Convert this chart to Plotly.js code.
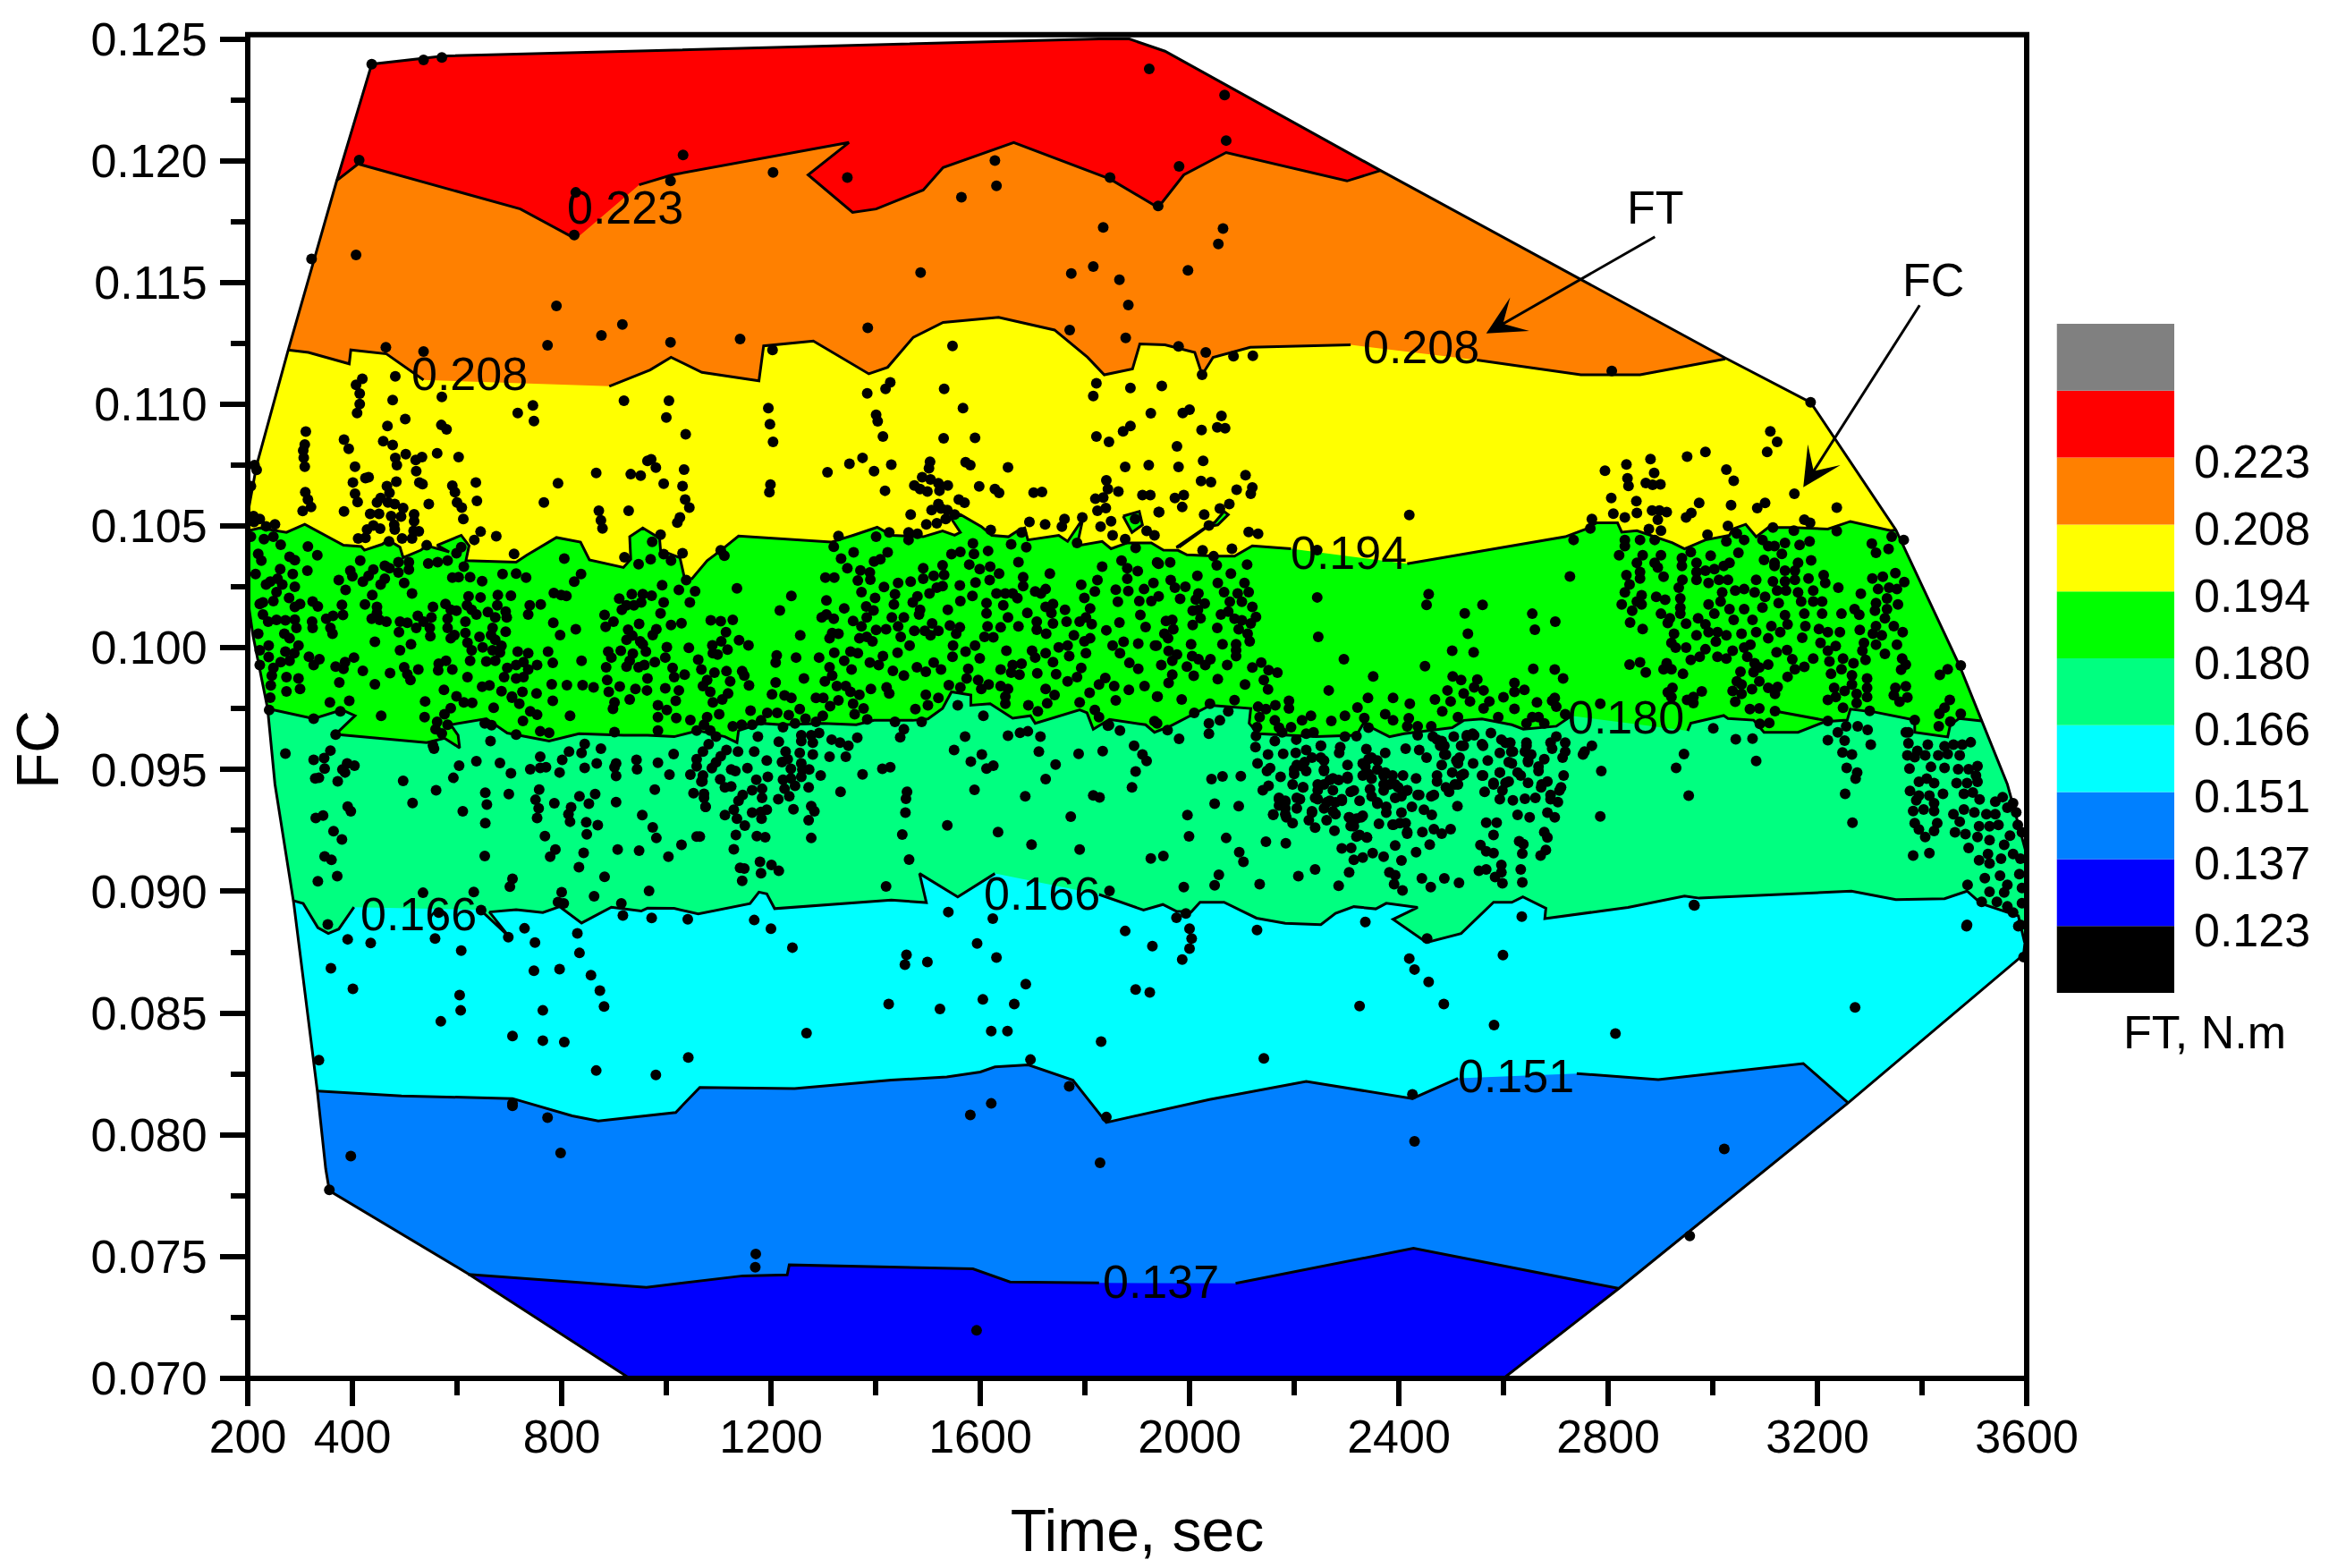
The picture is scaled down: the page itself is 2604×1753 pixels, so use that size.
<!DOCTYPE html>
<html><head><meta charset="utf-8">
<script src="https://cdn.plot.ly/plotly-3.0.1.min.js"></script>
<style>html,body{margin:0;padding:0;background:#fff}#c{width:2604px;height:1753px}</style>
</head><body><div id="c"></div>
<script>
// ---- axis ticks
const xTickVals=[200,400,800,1200,1600,2000,2400,2800,3200,3600];
const xMinorVals=[600,1000,1400,1800,2200,2600,3000,3400];
const yTickVals=[0.070,0.075,0.080,0.085,0.090,0.095,0.100,0.105,0.110,0.115,0.120,0.125];
const yTickText=['0.070','0.075','0.080','0.085','0.090','0.095','0.100','0.105','0.110','0.115','0.120','0.125'];
const yMinorVals=[0.0725,0.0775,0.0825,0.0875,0.0925,0.0975,0.1025,0.1075,0.1125,0.1175,0.1225];
// ---- legend
const legendColors=['#000000','#0000ff','#0080ff','#00ffff','#00ff80','#00ff00','#ffff00','#ff8000','#ff0000','#808080'];
const legendLevels=['0.123','0.137','0.151','0.166','0.180','0.194','0.208','0.223'];
// ---- data hull (time, FC pairs)
const hullRight=[2600,.0700,2821,.0737,3258,.0813,3594,.0874,3600,.0885,3600,.0915,3563,.0944,3513,.09705,3471,.0993,3350,.10484,3187,.11008,3024,.1119,2365,.1196,1953,.1245,1885,.1250];
const hullLeft=[1827,.1250,572,.1243,437,.12397,369,.1191,277,.1122,217,.1075,200,.1055,200,.1020,210,.1005,238,.0975,252,.0944,288,.0895,333,.0818,349,.0786,356,.0777,621,.0743,930,.0700];
// ---- contour boundaries (time, FC pairs); null,null = gap behind a level label
const level137=[621,.07427,777,.07404,962,.07374,1146,.07421,1231,.07425,1235,.07466,1586,.0745,1657,.07396,1827,.07392,null,null,2088,.0739,2428,.07534,2821,.07369];
const level151=[333,.0818,494,.0816,706,.08149,820,.08078,870,.08057,1018,.08092,1064,.08195,1245,.0819,1430,.08225,1536,.08238,1600,.08258,1628,.08279,1692,.08287,1777,.08225,1841,.08051,1953,.08104,2038,.08145,2223,.08219,2426,.08149,2513,.08232,null,null,2740,.08252,2896,.08227,3173,.08293,3258,.08133];
const level166=[287,.08962,306,.0895,334,.08851,354,.08827,374,.08845,403,.08935,null,null,639,.08925,650,.08913,699,.08815,662,.08915,713,.08925,764,.08913,796,.08937,838,.0887,895,.08935,952,.08919,964,.08931,1015,.0893,1061,.08907,1160,.0895,1177,.08997,1192,.0899,1207,.08929,1430,.08964,1497,.08954,1484,.09073,1557,.08977,1628,.09073,null,null,1827,.08987,1912,.08923,1949,.08946,1975,.08918,2003,.08915,2020,.08955,2066,.08955,2128,.0889,2183,.08869,2251,.08863,2279,.0891,2314,.08937,2356,.08928,2376,.08951,2436,.08934,2389,.08885,2453,.0879,2519,.08827,2581,.08955,2616,.08955,2637,.08977,2681,.08931,2679,.08888,2838,.08934,2946,.08981,2974,.08972,3265,.09001,3350,.08966,3443,.0897,3486,.09001,3513,.0895,3584,.08899,3596,.0879];
const level180=[238,.0975,326,.09709,380,.09745,405,.09721,368,.09645,542,.09611,576,.09629,605,.09589,602,.09641,588,.09684,656,.09709,696,.0965,776,.09617,833,.09647,918,.09641,964,.09641,1015,.09635,1061,.0966,1112,.09635,1135,.09611,1138,.0966,1181,.0969,1220,.09684,1300,.0969,1363,.09684,1397,.09702,1471,.09702,1500,.09708,1528,.09751,1545,.09819,1582,.09806,1582,.09764,1619,.0977,1662,.09711,1696,.09721,1705,.0969,1790,.09745,1804,.09733,1816,.09666,1847,.09706,1916,.09684,1933,.09653,1963,.09678,2006,.09727,2040,.09764,2117,.09751,2114,.0969,2131,.09647,2242,.09635,2319,.09641,2334,.09696,2348,.09672,2382,.09635,2410,.09647,2502,.09672,2524,.09702,2559,.09708,2616,.09684,2638,.09666,2701,.09678,2730,.09721,null,null,2952,.09659,2958,.0969,3021,.09722,3029,.0971,3078,.09703,3098,.09653,3163,.09653,3215,.09697,3257,.09703,3263,.09748,3312,.09735,3386,.09703,3386,.09653,3426,.0964,3449,.09634,3454,.09684,3471,.0971,3514,.0970];
const level194=[200,.1048,223,.10492,274,.10474,309,.10507,383,.10421,417,.10416,423,.10401,457,.10425,468,.10443,491,.10413,497,.1037,531,.10401,542,.10419,585,.10394,562,.10421,608,.10462,623,.10419,617,.10358,713,.10352,733,.1038,790,.10453,836,.10434,853,.10361,918,.1033,932,.10364,930,.10456,955,.10492,987,.1045,989,.10401,1026,.1037,1035,.10284,1049,.10284,1078,.10358,1104,.104,1138,.10459,1315,.10434,1357,.10462,1403,.10495,1431,.10462,1491,.10456,1528,.1048,1551,.10462,1562,.10474,1545,.10529,1562,.10547,1602,.10498,1622,.10462,1654,.10456,1671,.1048,1685,.10492,1691,.10443,1750,.10462,1767,.10437,1796,.10529,1785,.10419,1833,.10437,1850,.10407,1881,.10431,1927,.10431,1950,.10401,1978,.104,1995,.10382,2052,.10376,2086,.10376,2120,.10419,2194,.10407,null,null,2416,.10345,2718,.10456,2758,.10488,2778,.10513,2818,.10513,2826,.10475,2855,.10481,2889,.10456,2923,.10431,2946,.10406,2986,.10443,3032,.10462,3038,.10488,3063,.10507,3083,.10456,3106,.10494,3152,.10494,3220,.10488,3263,.10519,3340,.10481,3350,.10484];
const level208=[277,.11223,316,.11213,394,.11166,397,.11223,465,.11207,536,.111,null,null,891,.11074,969,.11141,1009,.11193,1068,.11131,1177,.11096,1186,.1124,1281,.1126,1387,.11125,1423,.11152,1472,.11275,1529,.11336,1635,.11357,1742,.11305,1805,.11193,1837,.11121,1891,.11145,1905,.11248,1953,.11244,2010,.11213,2024,.11121,2045,.11193,2116,.11234,2308,.11244,null,null,2549,.11182,2748,.11121,2861,.11121,3024,.11186];
const level223=[369,.11917,411,.11987,721,.11802,827,.11679,null,null,948,.11901,1011,.11942,1349,.12075,1271,.11942,1356,.11788,1401,.11802,1491,.1188,1529,.11972,1664,.12075,1827,.11942,1848,.11925,1940,.11808,1989,.11942,2070,.12034,2301,.11917,2365,.1196];
const greenLens=[1873,.10541,1904,.1056,1910,.10505,1890,.10474,1873,.10541];
const greenSpike=[1980,.10413,2035,.10498,2054,.10505,2074,.10547,2066,.1056,2049,.10517,2029,.10492,1975,.10413,1980,.10413];
const extraLine=[3119,.0974,3220,.0970];
// ---- level labels on the map
const mapLabels=[['0.223',922,.11808],['0.208',624,.11125],['0.208',2443,.11234],['0.194',2305,.10392],['0.180',2835,.09715],['0.166',526,.08905],['0.166',1718,.08991],['0.151',2624,.08242],['0.137',1945,.07396]];
// ---- measured points (time, FC pairs)
const dotsTop=[437,.12397,536,.12414,571,.12424,413,.12003,1032,.12024,1008,.11917,1204,.11952,1346,.11931,1628,.12001,1631,.11897,1564,.1185,1848,.11931,1923,.12377,1940,.11814,827,.1187,824,.11695,322,.11597,407,.11613,1835,.11726,1486,.11541,1774,.11537,1816,.11566,1866,.11511,1883,.11408,790,.11404,773,.11242,876,.11283,916,.11328,1008,.11254,1141,.11268,1385,.11314,1771,.11305,1878,.11273,1203,.11223,1547,.1124,464,.11234,536,.11217,2067,.1227,2070,.12083,1980,.11977,2064,.11722,2055,.11658,1997,.1155,1979,.11238,2031,.11213,2084,.11197,2121,.11199,2024,.11121,2807,.11137,3187,.11008,2420,.10545,2244,.10401,2949,.10535];
const dotsYellowUpper=[1195,.10984,1198,.10918,1204,.10846,1384,.11045,1419,.11063,1428,.1109,1401,.10957,1404,.1093,1414,.10868,1531,.11063,1567,.10984,1530,.1086,1590,.10862,1822,.11086,1816,.11034,1887,.11067,1926,.10963,1947,.11075,1887,.10911,1873,.10889,1846,.10846,1822,.10868,2000,.10978,1987,.10964,2023,.10894,2053,.10905,2068,.10902,2061,.10952,1976,.10827,3110,.10889,3123,.10846];
const dotsYellowLeft=[419,.11105,407,.1108,414,.11044,414,.11001,409,.10964,482,.11115,571,.1103,477,.11017,501,.10939,467,.10911,570,.10915,580,.10897,716,.10964,745,.10995,747,.10931,919,.11015,1005,.11015,1000,.10946,1037,.10877,311,.10888,309,.10835,306,.1081,307,.1078,309,.10744,384,.10855,393,.10817,405,.10744,401,.10679,405,.10633,410,.10599,384,.1056,459,.10848,477,.10833,482,.1078,485,.1075,502,.10795,521,.10771,533,.10783,522,.10725,562,.10799,603,.10783,425,.10697,431,.10701,466,.10664,484,.10682,471,.10636,528,.10679,534,.10672,591,.10666,596,.10639,636,.10679,638,.10603,600,.10597,609,.10576,612,.10529,546,.1059,310,.10639,315,.10609,321,.10578,305,.10562,447,.10597,454,.10615,468,.10597,481,.1059,497,.10574,434,.1055,451,.1055,474,.10541,493,.10539,518,.10548,518,.1052,428,.10486,440,.10502,453,.10489,480,.10505,481,.10486,517,.1048,527,.10478,514,.10449,495,.10449,411,.10449,425,.10452,470,.10437,793,.10676,866,.10718,766,.10597,932,.10713,951,.10707,971,.10774,964,.10768,980,.1074,1034,.10732,995,.10674,1031,.10664,1036,.10609,1044,.10576,1026,.10535,1021,.10514,871,.10563,875,.10523,878,.1049,928,.10563,989,.10465,973,.10435,645,.10477,633,.10443,675,.10458,709,.10386,213,.1075,217,.10731,206,.10664,211,.10541,223,.10529,252,.10507,235,.10499,212,.10517,206,.10456,249,.10456,231,.10446];
const dotsGreenLeft=[263,.10423,315,.10416,333,.1038,220,.10386,226,.10358,280,.10374,290,.1036,415,.10358,396,.10317,400,.10294,440,.10321,462,.10337,471,.10327,488,.10352,508,.10352,508,.10321,488,.10309,314,.10317,262,.10323,286,.10303,215,.10303,243,.10272,257,.10284,266,.1026,235,.1026,290,.10251,255,.10229,374,.10278,387,.10238,420,.10272,431,.10296,454,.1026,462,.10284,499,.10266,514,.10223,545,.10346,563,.10352,582,.10358,599,.10388,608,.10413,542,.10421,613,.10333,591,.10288,603,.1029,625,.1029,648,.10274,687,.10303,713,.10305,732,.10288,824,.10272,837,.10303,805,.10366,785,.10225,799,.10217,809,.10213,920,.10372,947,.10343,970,.10364,995,.10385,1009,.10358,1031,.10388,1038,.10278,992,.10257,1024,.10238,1055,.10232,279,.10205,290,.10168,300,.1018,324,.1019,334,.1017,229,.10186,249,.10192,223,.1018,380,.10176,382,.10135,363,.10131,350,.10119,438,.10217,424,.10178,447,.10168,447,.10143,437,.10119,452,.10115,465,.10107,229,.10137,239,.10107,255,.10115,272,.10113,290,.10116,323,.10107,324,.10082,293,.10082,220,.10058,270,.10058,280,.10039,358,.10082,362,.10058,491,.10107,489,.10064,505,.10103,525,.10131,522,.10082,536,.10107,551,.10125,554,.10168,548,.10082,549,.10048,578,.1018,588,.10156,599,.10152,582,.10119,582,.10082,588,.10039,595,.10052,622,.10211,645,.10207,619,.10174,628,.10156,637,.10137,616,.10107,616,.10061,659,.10147,678,.10217,703,.10214,677,.10174,693,.10149,695,.10125,673,.10125,668,.10082,693,.10066,665,.10052,673,.10033,643,.10045,620,.10021,628,.0999,649,.10002,685,.10008,668,.0999,682,.09981,739,.10174,760,.10178,736,.10137,784,.10103,827,.10076,797,.10052,910,.10202,934,.1022,955,.1022,972,.10214,995,.10186,1045,.10186,952,.10186,938,.10174,924,.10174,915,.10156,989,.10141,882,.10135,899,.10107,884,.10086,948,.10098,927,.10074,981,.10076,974,.10052,1009,.10094,1029,.10101,935,.1005,924,.10033,950,.10027,443,.10025,512,.10015,491,.0999,240,.10009,223,.0999,240,.09962,297,.10009,272,.09984,289,.09978,280,.09947,263,.09941,317,.09963,337,.09953,326,.09929,223,.09929,249,.09917,246,.09886,403,.0996,386,.09941,368,.09923,383,.09914,420,.09905,579,.09947,565,.09935,564,.09907,591,.09911,499,.0992,526,.09911,505,.09892,511,.09868,472,.09896,625,.09947,656,.09944,673,.09947,620,.0988,716,.09984,736,.09978,727,.09941,774,.09984,783,.09938,838,.09947,753,.09929,736,.09911,713,.09929,696,.09917,690,.0988,727,.0988,713,.09874,889,.09984,895,.0996,913,.09988,936,.09976,955,.10015,961,.09984,924,.09923,885,.0992,930,.09947,1001,.10003,998,.0996,1043,.1,1061,.09951,978,.09941,958,.09929,947,.0992,964,.09874,1012,.09917,1015,.0988,1035,.0989,274,.0988,297,.09874,300,.09831,274,.09821,244,.09846,375,.09858,443,.0985,575,.09827,648,.0984,662,.09846,685,.09822,781,.0985,810,.09847,840,.09847,861,.09837,887,.09868,911,.09841,941,.09831,963,.09825,998,.09834,1024,.09825,890,.09819,725,.09819,752,.09813,705,.098];
const dotsSpringLeft=[243,.09795,241,.09745,357,.09776,394,.09782,377,.09739,326,.09709,455,.09721,539,.0978,538,.09715,576,.09727,588,.09752,599,.09801,613,.09776,629,.09774,670,.09754,705,.09795,719,.0977,740,.09739,753,.09725,726,.097,783,.09782,816,.09721,898,.09749,901,.09776,930,.09788,984,.09764,1001,.09745,984,.09715,1019,.09712,1018,.09782,1046,.09703,1058,.0966,984,.0966,901,.09654,759,.09657,776,.09651,713,.09644,653,.0969,666,.09682,562,.09696,559,.09666,582,.09684,571,.09648,554,.09599,556,.09586,664,.09617,368,.09644,272,.09566,326,.0954,346,.09547,358,.09578,347,.09504,381,.095,390,.09525,404,.09516,386,.09488,336,.09466,329,.09464,372,.09452,497,.09454,515,.09363,560,.09415,593,.09466,604,.09516,637,.09534,682,.09527,703,.09485,759,.09553,796,.09488,740,.09501,759,.09507,770,.0951,611,.09329,654,.09405,699,.09399,657,.09356,757,.09418,750,.09376,756,.09341,753,.09301,786,.09362,654,.0928,834,.0939,864,.09399,852,.0936,818,.09345,813,.09317,816,.09286,847,.09284,869,.09272,848,.09234,904,.09366,954,.09313,978,.09418,974,.09263,981,.09219,801,.0954,814,.09574,838,.09568,844,.09605,844,.09507,867,.09525,875,.09586,904,.09525,901,.0951,904,.09474,943,.0954,944,.09501,984,.09528,1014,.09564,1006,.09479,1058,.09543,1058,.09513,1046,.09479,1069,.09452,1052,.09403,1072,.09384,1075,.09347,1058,.09225,1029,.09191,330,.09301,344,.09311,391,.09348,397,.09329,364,.09247,380,.09213,347,.09143,360,.09129,334,.09041,371,.09062,535,.08994,632,.08997,706,.09051,701,.09019,653,.09145,768,.09227,788,.09172,778,.09142,842,.09158,833,.09099,882,.0906,907,.09172,948,.09167,1004,.09142,800,.08996,793,.08956,804,.0895,862,.0898,914,.0895,967,.09002];
const dotsCyanBlue=[353,.08864,565,.08913,646,.08923,698,.08812,391,.08803,435,.08788,558,.08806,729,.08848,749,.0879,830,.08827,917,.08901,972,.08891,1041,.08885,608,.08757,834,.08747,359,.08684,747,.08674,796,.0868,856,.08656,401,.086,873,.08592,881,.08527,605,.08574,607,.08511,764,.08511,569,.08466,336,.08307,805,.08381,764,.08387,706,.08406,866,.08264,980,.08246,1042,.08318,706,.08129,706,.08119,773,.08071,798,.07926,397,.07913,356,.07774,1170,.07456,1171,.07511,1593,.07197,1581,.08082,1621,.08129,1770,.08199,1841,.08073,1829,.07885,1696,.08309,1831,.08383,1268,.08418,1621,.08426,1652,.08426,1425,.08537,1523,.08517,1605,.08556,1665,.08537,1687,.08619,1456,.08699,1459,.08739,1499,.0871,1631,.08728,1594,.08786,1241,.08769,1200,.08847,1168,.08882,1539,.08915,1624,.08888,1877,.08837,1929,.08775,1897,.08597,1924,.08585,1986,.0872,2004,.08806,2000,.08765,2000,.08847,1975,.08892,1993,.08909,2129,.08841,2336,.08874,2454,.08806,2420,.08724,2430,.08679,2457,.08628,2486,.08537,2325,.08529,2142,.08314,2582,.08451,2814,.08416,2599,.08738,2635,.08896,2964,.08944,3272,.08523,3485,.08857,3584,.08857,3594,.0873,2426,.08166,2430,.07973,3022,.07942,2956,.07585];
const dotsYellowMid=[1199,.1067,1197,.10639,1308,.10721,1350,.10756,1375,.1078,1397,.10725,1430,.10752,1418,.10645,1504,.10764,1502,.10737,1572,.10762,1581,.1075,1653,.10741,1877,.10743,1922,.1075,1489,.10701,1505,.10691,1520,.10676,1538,.10667,1474,.10667,1485,.10652,1499,.10642,1522,.10645,1598,.10663,1628,.10652,1636,.10636,1702,.10637,1718,.1064,1841,.10688,1844,.10652,1864,.10642,1910,.10627,1925,.10627,1820,.10612,1835,.10617,1840,.10574,1824,.10563,1941,.10557,1850,.1052,1830,.10498,1853,.10462,1877,.10446,1559,.10609,1570,.10596,1520,.1059,1507,.10566,1525,.10572,1537,.10566,1467,.10547,1551,.10547,1534,.10529,1517,.10511,1497,.10507,1426,.10474,1401,.10456,1329,.10459,1320,.10415,1463,.10474,1480,.10468,1463,.10443,1694,.10517,1724,.10507,1620,.10484,1679,.10474,1761,.10529,1756,.10498,1795,.10535,1785,.10431,1896,.10529,1918,.1048,1933,.10462,1104,.104,1111,.10378];
const dotsGreenMid=[1358,.10392,1334,.10366,1346,.10327,1423,.10392,1397,.10354,1409,.10364,1371,.10318,1389,.10309,1366,.10276,1390,.1028,1304,.10288,1321,.10288,1135,.10244,1239,.10213,1217,.10153,1085,.10113,1104,.10109,1127,.10115,1114,.10064,1105,.10027,1139,.10031,1157,.1001,1088,.1001,1089,.09978,1098,.09972,1117,.09993,1256,.10051,1211,.09969,1209,.09939,1248,.0996,1292,.0996,1373,.10229,1306,.10195,1340,.10162,1399,.10205,1416,.1025,1443,.10266,1467,.10272,1437,.1022,1435,.10178,1297,.10125,1306,.10137,1320,.10119,1357,.1011,1312,.10039,1317,.10061,1329,.10058,1382,.1017,1396,.10153,1383,.10125,1373,.10088,1369,.10039,1383,.10045,1394,.10027,1401,.10073,1420,.10076,1431,.10125,1454,.10125,1443,.10088,1448,.10045,1465,.10009,1474,.1007,1494,.1007,1508,.101,1505,.10051,1520,.1007,1480,.10211,1471,.10186,1485,.10156,1483,.10137,1503,.10223,1517,.10247,1528,.10253,1491,.10327,1491,.10284,1511,.10296,1528,.10339,1531,.10299,1545,.10385,1562,.10394,1586,.10429,1588,.10386,1615,.10398,1579,.10342,1599,.10323,1619,.10333,1636,.10305,1618,.10278,1591,.10268,1561,.10256,1585,.10213,1562,.10192,1538,.10156,1659,.10425,1688,.10413,1673,.10352,1682,.1029,1682,.10253,1733,.10305,1705,.10231,1725,.10241,1716,.10223,1631,.10223,1648,.10223,1662,.10223,1671,.10204,1612,.10184,1644,.10174,1612,.10141,1725,.10168,1739,.1018,1736,.10143,1762,.10156,1542,.10092,1561,.10084,1554,.10058,1548,.10009,1614,.10088,1639,.10084,1653,.10125,1673,.10088,1690,.10143,1708,.10107,1708,.10074,1726,.10058,1739,.101,1765,.10107,1779,.10051,1608,.10045,1625,.10043,1590,.10009,1572,.09984,1547,.09963,1599,.09957,1650,.09988,1699,.09988,1705,.0996,1725,.09978,1750,.10002,1767,.10009,1739,.09941,1745,.09892,1770,.09966,1767,.09862,1793,.09917,1785,.0988,1799,.10027,1802,.09978,1810,.10039,1793,.10259,1824,.10278,1819,.10231,1799,.10205,1810,.10162,1802,.10125,1790,.10107,1813,.10097,1859,.10239,1883,.10233,1863,.10189,1841,.10072,1866,.10104,1906,.10135,1916,.10085,1897,.1041,1870,.10358,1833,.10333,1881,.10327,1901,.10315,1881,.10284,1938,.10351,1913,.10241,1931,.10266,1904,.10192,1927,.10192,1853,.10009,1874,.10025,1867,.09978,1902,.10017,1934,.10009,1885,.09938,1902,.09914,1839,.09876,1827,.09849,1856,.09843,1884,.09827,1914,.09843,1859,.09784,1809,.09815,1938,.098,1790,.09776,1819,.09745,1827,.09715,1844,.0968,1867,.0966,1933,.09699,1725,.09831,1742,.09806,1728,.09772,1710,.09739,1692,.09764,1648,.0977,1639,.09911,1662,.09929,1679,.09935,1659,.09898,1675,.0989,1709,.09895,1577,.09914,1574,.09874,1596,.09868,1616,.09849,1639,.09843,1653,.09831,1602,.09831,1562,.09837,1540,.09847,1648,.098,1511,.09939,1525,.09911,1496,.09902,1479,.0992,1454,.09886,1433,.09905,1442,.0998,1414,.09966,1406,.09929,1389,.09939,1352,.09984,1366,.09978,1340,.09947,1354,.09911,1321,.0998,1312,.0992,1317,.09886,1303,.09862,1326,.09843,1343,.09843,1352,.09819,1369,.09807,1391,.09831,1421,.09837,1426,.09813,1496,.09807,1500,.09764,1520,.09794,1476,.09748,1286,.09794,1300,.09794,1329,.09784,1313,.0976,1357,.0977,1377,.09751,1360,.09727,1384,.09706,1299,.09721,1286,.09696,1266,.09709,1255,.09748,1234,.09724,1212,.09733,1193,.09733,1161,.09742,1263,.09874,1209,.09858,1202,.09809,1226,.09804,1239,.09794,1145,.09904,1149,.09886,1158,.09846,1115,.09904,1122,.09862,1092,.09898,1078,.09868,1067,.09911,1084,.09819,1118,.09813,1107,.09788,1089,.09776,1101,.09727,1070,.09843];
const dotsSpringMid=[1437,.09696,1454,.09666,1447,.09633,1488,.09696,1557,.09764,1606,.09721,1144,.09684,1127,.09678,1181,.09702,1164,.09684,1223,.09674,1078,.09715,1072,.09684,1084,.0966,1095,.09635,1081,.09604,1070,.09574,1246,.0969,1258,.09641,1277,.09641,1292,.0965,1280,.09611,1258,.09617,1175,.09635,1215,.09614,1137,.09574,1168,.09574,1228,.09574,1255,.09568,1280,.09562,1312,.09553,1343,.09553,1316,.09623,1332,.09611,1348,.09598,1365,.09631,1115,.0958,1104,.09555,1095,.0953,1087,.09506,1192,.09537,1221,.09531,1232,.09543,1258,.09525,1260,.095,1273,.095,1238,.09503,1155,.09506,1124,.095,1132,.09494,1070,.09476,1067,.09451,1103,.0946,1112,.09427,1124,.09431,1172,.09458,1194,.0947,1295,.09476,1223,.09458,1238,.09464,1258,.0947,1164,.09415,1183,.09421,1183,.09384,1146,.09396,1138,.09372,1214,.09378,1235,.0939,1226,.09421,1272,.09427,1246,.09433,1333,.09409,1375,.0948,1413,.09503,1428,.0951,1460,.09409,1458,.0938,1072,.094,1075,.09347,1243,.09337,1277,.0935,1283,.09329,1272,.09292,1129,.09335,1112,.09313,1135,.09298,1150,.0927,1164,.09323,1181,.09326,1182,.09298,1192,.09335,1457,.09323,1451,.09233,1537,.09271,1464,.0913,1634,.09243,1698,.09192,1790,.09172,1773,.09307,1589,.09417,1686,.0939,1816,.09394,1828,.09386,1890,.09427,1725,.09461,1744,.09521,1897,.09492,1918,.09535,1910,.09562,1894,.09598,1834,.09576,1788,.09565,1712,.09574,1715,.09635,1653,.09639,1676,.09651,1691,.09657,1571,.09635,1550,.0958,1603,.09562,1582,.09533,1625,.09516,1612,.09504,1846,.09682,1133,.09231,1173,.09227,1189,.09222,1277,.09219,1129,.09173,1179,.09121,1141,.09096,1149,.09094,1201,.09108,1215,.09084,1181,.09074,1145,.09043,1420,.0902,1926,.09135,1847,.09002,1064,.09225];
const dotsYellowRight=[1979,.10743,2026,.10768,2022,.10685,2041,.1068,2107,.10709,2090,.10649,2120,.10658,2117,.10633,1972,.10615,1989,.10627,1986,.10578,1942,.10557,2028,.10547,2058,.10572,2076,.1059,2037,.10502,2113,.10476,2131,.10468,2025,.104,2081,.10407,2046,.10376,2794,.10727,2806,.10615,2810,.10551,2769,.10529,2766,.1049,2734,.10443,2835,.10753,2881,.10775,2951,.10785,2986,.10804,3104,.10804,2888,.10718,3026,.10732,2837,.10696,2839,.10665,3040,.10686,2872,.10677,2885,.10669,2900,.10671,2854,.10602,2974,.10595,3035,.10586,3100,.10595,3085,.10574,3156,.10633,3237,.10576,2959,.10554,2855,.10554,2832,.10535,2884,.10564,2898,.10564,2912,.10557,2895,.10526,3175,.10526,3186,.10513,3029,.105,3115,.10494,3237,.10479,2990,.10465,3365,.10443,3342,.10456];
const dotsGreenRight1=[1963,.10351,1941,.10345,2052,.10339,2110,.10342,2015,.10296,2079,.10305,1964,.10278,1972,.10247,1992,.10251,2054,.10266,2105,.10266,2066,.10229,2113,.10229,2017,.10223,1982,.10201,1941,.10211,2092,.10223,2077,.10189,2100,.10189,2012,.10198,2029,.10182,2120,.10168,2006,.10152,2016,.10155,2021,.10121,2006,.10094,2060,.10137,2074,.10149,2086,.10119,2100,.10113,2127,.10127,2094,.10076,2117,.101,2053,.10082,1955,.1011,1967,.10115,1969,.10076,1952,.10058,1959,.10039,2111,.10058,2115,.10027,2089,.10015,2063,.10015,2003,.10015,1937,.10009,2089,.0999,2089,.09966,1960,.09987,1976,.09972,1967,.09947,2005,.09966,1995,.09923,2017,.09953,2030,.09929,2040,.09953,1946,.09929,2072,.09929,2120,.09919,2137,.09939,2151,.09908,2168,.09898,2008,.09885,1967,.0989,1960,.09856,2054,.09871,2106,.09849,2142,.09868,2150,.09829,1939,.098,1985,.09788,2086,.09785,2039,.0977,2074,.09739,2009,.09733,1958,.09662,1938,.0969,2131,.09758,2146,.09748,2164,.09764,2190,.09782,2190,.09751,2134,.09715,2244,.10207,2246,.10045,2295,.09953,2351,.09882,2266,.09825,2450,.09925,2502,.09988,2543,.09982,2532,.10058,2526,.10141,2560,.10176,2457,.1022,2453,.10176,2655,.1014,2660,.10074,2699,.10107,2657,.09914,2698,.09911,2714,.09874,2727,.10293,2503,.09882,2519,.09868,2550,.0987,2544,.09837,2493,.09825,2524,.09813,2562,.09825,2536,.0978,2573,.0978,2499,.0978,2469,.09788,2621,.09856,2640,.09827,2621,.09819,2600,.09797,2698,.09794,2693,.09782,2701,.09758,2389,.09794,2421,.0977,2341,.09794,2321,.09755,2483,.09739,2621,.09749,2562,.09751,2664,.09776,2785,.0977,2513,.09715,2590,.09715,2655,.09715,2667,.09715,2644,.0969,2678,.0969,2718,.09727,2232,.09721,2215,.09702,2374,.09727,2389,.09702,2419,.09711,2297,.09721,2334,.09712,2271,.097];
const dotsSpringCluster=[2129,.09674,2127,.09638,2163,.09702,2171,.09672,2194,.09674,2177,.09653,2163,.09617,2204,.09623,2223,.09647,2237,.09653,2037,.0969,2058,.09702,2037,.09647,1980,.09626,2319,.09637,2342,.09672,2297,.09635,2416,.09678,2436,.09678,2436,.09641,2462,.09678,2465,.09635,2505,.09635,2482,.09617,2576,.0965,2530,.09641,2544,.09641,2524,.09598,2559,.09604,2596,.09623,2613,.09611,2644,.09611,2690,.09611,2718,.09611,2701,.09635,2126,.09592,2150,.09562,2179,.09565,2203,.09568,2223,.0958,2251,.09598,2288,.09592,2286,.09568,2338,.09584,2374,.09568,2413,.09586,2439,.0958,2487,.09598,2487,.09562,2516,.09549,2593,.09568,2618,.09574,2641,.09574,2653,.09562,2693,.09586,2718,.09574,2755,.09574,2769,.09598,2130,.09525,2154,.09506,2148,.09494,2220,.09531,2251,.09549,2205,.09519,2302,.09519,2342,.09543,2359,.09537,2331,.09525,2453,.09549,2482,.09519,2513,.09525,2570,.09537,2542,.09525,2616,.09525,2647,.09531,2678,.09543,2713,.09549,2752,.09562,2174,.0947,2200,.09482,2223,.09494,2257,.09494,2274,.09464,2302,.0947,2342,.09482,2374,.09488,2388,.09476,2408,.09476,2433,.09464,2473,.09476,2524,.09482,2559,.09476,2593,.09488,2627,.09488,2667,.09494,2715,.09476,2787,.09494,2151,.09433,2140,.09415,2197,.09439,2217,.09427,2245,.09415,2274,.09415,2308,.09409,2345,.0942,2371,.09439,2393,.09439,2416,.09415,2436,.09396,2467,.09396,2496,.09409,2513,.09439,2581,.09445,2604,.09445,2647,.09445,2673,.09439,2710,.09427,2171,.09384,2205,.09384,2240,.09384,2268,.09372,2291,.09372,2325,.09372,2359,.0936,2393,.09384,2425,.09347,2564,.09409,2593,.09378,2618,.09374,2641,.0938,2661,.09384,2704,.09366,2690,.09396,2171,.09353,2183,.09372,2160,.09314,2183,.09317,2197,.0928,2228,.09292,2234,.09323,2240,.09262,2262,.09292,2279,.09317,2277,.09249,2376,.09323,2405,.09323,2448,.09335,2463,.09314,2305,.09304,2328,.09304,2308,.09268,2319,.09225,2339,.09221,2362,.09277,2388,.09274,2413,.0928,2416,.09237,2445,.09243,2467,.09255,2482,.09237,2499,.09255,2512,.0935,2627,.09314,2650,.09304,2684,.09323,2698,.09304,2785,.09308,2567,.09282,2587,.09282,2581,.09231,2556,.0919,2567,.09164,2581,.09157,2630,.09206,2638,.09194,2636,.09155,2678,.09243,2684,.09221,2681,.0917,2671,.09147,2393,.09188,2433,.09161,2459,.09192,2291,.09176,2309,.09178,2350,.09157,2331,.09139,2314,.09129,2371,.09142,2405,.09127,1996,.09313,2094,.0935,2048,.0936,2042,.09461,2063,.09472,2098,.09473,1999,.09226,2070,.09219,2146,.09204,2184,.09197,2095,.09161,2103,.09121,1950,.09145,2240,.0909,2208,.09062,2056,.09068,2048,.09025,1989,.09017,2134,.09029,2305,.09078,2285,.09023,2382,.09078,2393,.09066,2391,.09029,2407,.09004,2444,.09053,2461,.09017,2487,.09053,2515,.09035,2553,.09084,2567,.0909,2596,.09108,2596,.09078,2584,.09059,2598,.09033,2633,.0909,2636,.09037];
const dotsClusterCore=[2348,.09549,2336,.09512,2359,.095,2371,.09476,2348,.09463,2331,.09476,2302,.09463,2285,.09457,2257,.09439,2245,.09439,2268,.09457,2382,.09439,2399,.09427,2371,.09414,2359,.09365,2376,.09347,2348,.0939,2405,.0939,2314,.09414,2245,.09378,2262,.09365,2279,.09365,2291,.09378,2257,.09341,2274,.09329,2234,.09329,2211,.09378,2217,.09427,2200,.095,2217,.09512,2234,.09549,2251,.09598,2257,.09537,2257,.095,2183,.09365,2171,.09378,2183,.09341,2205,.09341,2160,.09316,2185,.09304,2305,.09304,2319,.09298,2331,.0931,2314,.09267,2325,.09231,2339,.09221,2402,.0928,2416,.09243,2390,.09274,2416,.09414,2439,.09396,2462,.0939,2490,.09427,2473,.09451,2507,.09439,2519,.09476,2502,.09488,2510,.09537,2490,.09561,2479,.09598,2473,.09623,2530,.09635,2541,.09647,2519,.09598,2561,.09598,2604,.0961,2615,.09573,2610,.09531,2644,.09598,2647,.09537,2667,.09512,2684,.09451,2672,.09427,2707,.09414,2690,.09378,2581,.09439,2598,.09414,2633,.09476,2610,.09451,2593,.09488,2561,.09476];
const dotsGreenRight2=[3304,.10428,3312,.1039,3336,.10406,3049,.1039,2996,.10378,3138,.10431,3166,.10422,3185,.10437,3188,.10359,3163,.10349,3026,.10437,3060,.10443,3046,.10469,3095,.10443,3106,.10418,3118,.10418,3155,.10481,2901,.10481,2878,.10488,2832,.10443,2889,.10443,2861,.10443,2901,.1038,2866,.1038,2889,.10349,2832,.10418,2821,.1038,2855,.10349,2941,.10368,2958,.10393,2969,.10349,2941,.10336,3132,.10386,3098,.10361,3118,.10349,2895,.1033,2861,.10311,2835,.10298,2906,.10292,2861,.10285,3003,.10323,3021,.10336,3032,.10349,2969,.10311,2986,.10317,2942,.10279,2969,.10279,2992,.10266,3029,.10279,3012,.10279,3083,.10279,3118,.10336,3138,.10317,3157,.10317,3115,.10273,3138,.10273,3157,.10279,3183,.10285,3212,.10298,3215,.10266,3240,.10247,2935,.10247,2841,.1026,2832,.10228,2864,.10216,2855,.1019,2826,.10178,2864,.10178,2846,.10152,2892,.10209,2909,.10197,2938,.10203,2938,.10165,3018,.10228,3043,.10235,3060,.10241,3080,.10228,3100,.10209,3015,.1019,2992,.10178,3095,.10165,3060,.10159,3032,.10159,3003,.1014,3123,.10235,3126,.10184,3140,.10235,3163,.10228,3192,.10235,3169,.1019,3192,.1019,3209,.1019,3209,.1014,3175,.1014,3246,.1014,3283,.10222,3305,.10285,3325,.10292,3349,.10307,3366,.1027,3316,.10241,3337,.10247,3352,.10241,3333,.10203,3312,.10184,3310,.10152,3354,.10178,3333,.10159,3271,.10159,3280,.10136,3329,.10121,2901,.1014,2918,.10121,2938,.1014,2914,.10102,2949,.10099,2842,.10104,2866,.10077,2972,.10121,2986,.10096,2969,.10051,2992,.10064,3009,.10064,3026,.10051,3006,.10026,3040,.10115,3076,.10115,3055,.10058,3083,.10064,3112,.10089,3129,.10064,3143,.10096,3138,.10134,3106,.10039,3072,.10013,3177,.10089,3203,.10077,3220,.10064,3243,.10064,3171,.10041,3206,.1002,3235,.10007,3220,.09988,3281,.10073,3312,.10089,3306,.10058,3346,.10089,3363,.10064,3323,.10051,3289,.1002,3312,.10013,3352,.10013,3286,.09988,3329,.09975,3292,.0995,2926,.10058,2921,.1002,2929,.10001,2949,.10001,2986,.09994,2958,.0995,2975,.09963,3009,.09963,3026,.09956,3038,.09988,3060,.10001,3066,.09963,3080,.09937,3106,.09931,3089,.09919,3078,.099,3053,.09902,3122,.09982,3142,.09991,3152,.09953,3192,.09956,3175,.09922,3157,.09912,3143,.09881,3223,.09944,3249,.09956,3269,.09937,3246,.09912,3226,.09893,3266,.09887,3362,.09956,3369,.09931,3360,.0991,2841,.09931,2861,.0994,2872,.09899,2912,.09937,2906,.09912,2921,.09912,2943,.09893,3449,.09912,3434,.09889,3474,.09927,3046,.09862,3055,.09849,3038,.09823,3075,.0983,3089,.09862,3106,.09836,3124,.09839,3119,.09811,3055,.09811,3043,.09779,3232,.09836,3252,.09823,3266,.09849,3295,.09874,3295,.09836,3275,.09811,3235,.09798,3220,.09786,3295,.09798,3275,.09773,3249,.09754,3349,.09836,3369,.09842,3346,.09805,3372,.09796,3357,.09779,2923,.09836,2914,.09817,2921,.09798,2979,.09821,2963,.09798,2951,.09786,2963,.09773,3089,.09751,3071,.09748,3119,.0974,3108,.09691,3090,.09688,3220,.097,3300,.09741,3386,.09703,3277,.09678,3255,.09678,3239,.09653,3296,.09663,3453,.09786,3443,.09754,3433,.09729,3474,.09729,3454,.09697,3432,.09678,3374,.09653];
const dotsSpringRight=[3001,.09669,3044,.09624,3076,.09627,3083,.09535,2945,.09564,2930,.09507,2954,.09393,3220,.09621,3252,.09619,3302,.09602,3248,.0957,3266,.09562,3256,.09507,3276,.09488,3273,.09463,3253,.094,3267,.09282,3383,.09147,3414,.09157,3487,.09027,2965,.08942,3369,.09653,3374,.09608,3411,.09602,3391,.09577,3372,.09558,3386,.09551,3406,.09558,3376,.09504,3417,.09511,3443,.09596,3460,.09602,3477,.09602,3493,.09612,3431,.09558,3449,.09564,3472,.09558,3443,.09507,3469,.09501,3489,.09501,3506,.09514,3503,.09476,3466,.09444,3486,.09444,3506,.0945,3480,.094,3497,.09406,3510,.09377,3377,.09412,3394,.0945,3409,.09463,3423,.09444,3394,.09393,3414,.09393,3440,.094,3389,.09374,3423,.09362,3383,.0933,3403,.09336,3423,.0933,3386,.0928,3429,.0928,3394,.09254,3423,.09248,3406,.09223,3460,.09317,3480,.09336,3500,.09324,3523,.09317,3540,.09317,3463,.09242,3472,.09286,3483,.09235,3489,.09178,3509,.09267,3529,.09267,3546,.09273,3506,.09223,3529,.0921,3557,.09191,3540,.09368,3554,.09387,3563,.09343,3574,.09362,3580,.09324,3583,.09273,3568,.09229,3591,.09242,3509,.09128,3526,.09153,3529,.09115,3551,.09134,3574,.09153,3588,.09134,3520,.09054,3549,.09064,3563,.09027,3529,.08998,3557,.08995,3586,.09071,3591,.09014,3514,.08957,3543,.08957,3563,.08938,3591,.08951,3574,.08913,3486,.08862,3588,.08862];

const allDots=[dotsTop,dotsYellowUpper,dotsYellowLeft,dotsGreenLeft,dotsSpringLeft,dotsCyanBlue,dotsYellowMid,dotsGreenMid,dotsSpringMid,dotsYellowRight,dotsGreenRight1,dotsSpringCluster,dotsClusterCore,dotsGreenRight2,dotsSpringRight].flat();

function xs(a){return a.filter((v,i)=>i%2===0)}
function ys(a){return a.filter((v,i)=>i%2===1)}
const FONT='"Liberation Sans", Arial, sans-serif';
const BLACK='#000000';
const hrX=xs(hullRight),hrY=ys(hullRight),hlX=xs(hullLeft),hlY=ys(hullLeft);
function fillAbove(level,color){
  const bx=xs(level).filter(v=>v!==null),by=ys(level).filter(v=>v!==null);
  const yEnd=by[by.length-1],yStart=by[0];
  const X=bx.slice(),Y=by.slice();
  hrX.forEach((x,i)=>{if(hrY[i]>yEnd){X.push(x);Y.push(hrY[i]);}});
  hlX.forEach((x,i)=>{if(hlY[i]>yStart){X.push(x);Y.push(hlY[i]);}});
  return {type:'scatter',mode:'none',x:X,y:Y,fill:'toself',fillcolor:color,hoverinfo:'skip',showlegend:false};
}
const LW=3;
function contourLine(a){return {type:'scatter',mode:'lines',x:xs(a),y:ys(a),line:{color:BLACK,width:LW},connectgaps:false,hoverinfo:'skip',showlegend:false};}
function patch(a,c){return {type:'scatter',mode:'lines',x:xs(a),y:ys(a),fill:'toself',fillcolor:c,line:{color:BLACK,width:LW},hoverinfo:'skip',showlegend:false};}

const traces=[];
traces.push({type:'scatter',mode:'none',x:hrX.concat(hlX),y:hrY.concat(hlY),fill:'toself',fillcolor:legendColors[1],hoverinfo:'skip',showlegend:false});
[level137,level151,level166,level180,level194,level208,level223].forEach((l,i)=>traces.push(fillAbove(l,legendColors[i+2])));
[level137,level151,level166,level180,level194,level208,level223,extraLine].forEach(l=>traces.push(contourLine(l)));
traces.push(patch(greenLens,legendColors[5]));
traces.push(patch(greenSpike,legendColors[5]));
traces.push({type:'scatter',mode:'lines',x:hrX.concat(hlX),y:hrY.concat(hlY),line:{color:BLACK,width:LW},hoverinfo:'skip',showlegend:false});
traces.push({type:'scatter',mode:'markers',name:'Measured',x:xs(allDots),y:ys(allDots),marker:{color:BLACK,size:12,line:{width:0}},showlegend:false});
traces.push({type:'bar',x:legendColors.map(()=>'FT'),y:legendColors.map(()=>1),base:legendColors.map((c,i)=>i),width:legendColors.map(()=>1),marker:{color:legendColors,line:{width:0}},xaxis:'x2',yaxis:'y2',hoverinfo:'skip',showlegend:false});

const annotations=mapLabels.map(l=>({text:l[0],x:l[1],y:l[2],xref:'x',yref:'y',showarrow:false,xanchor:'center',yanchor:'middle',font:{family:FONT,size:52,color:BLACK}}));
annotations.push({text:'FT',x:2891,y:.11808,xref:'x',yref:'y',showarrow:false,font:{family:FONT,size:52,color:BLACK}});
annotations.push({text:'FC',x:3421,y:.1151,xref:'x',yref:'y',showarrow:false,font:{family:FONT,size:52,color:BLACK}});
annotations.push({text:'',x:2567,y:.11291,ax:2892,ay:.11691,xref:'x',yref:'y',axref:'x',ayref:'y',showarrow:true,arrowhead:3,arrowsize:2.4,arrowwidth:3,arrowcolor:BLACK});
annotations.push({text:'',x:3173,y:.10659,ax:3397,ay:.11412,xref:'x',yref:'y',axref:'x',ayref:'y',showarrow:true,arrowhead:3,arrowsize:2.4,arrowwidth:3,arrowcolor:BLACK});
annotations.push({text:'FT, N.m',x:2465/2604,y:1-1154/1753,xref:'paper',yref:'paper',showarrow:false,xanchor:'center',yanchor:'middle',font:{family:FONT,size:52,color:BLACK}});
annotations.push({text:'FC',x:42/2604,y:1-838/1753,xref:'paper',yref:'paper',showarrow:false,textangle:-90,xanchor:'center',yanchor:'middle',font:{family:FONT,size:66,color:BLACK}});

const layout={
  width:2604,height:1753,margin:{l:0,r:0,t:0,b:0},paper_bgcolor:'#fff',plot_bgcolor:'#fff',showlegend:false,
  font:{family:FONT,color:BLACK},
  xaxis:{domain:[277/2604,2266/2604],range:[200,3600],tickvals:xTickVals,ticktext:xTickVals.map(String),ticks:'outside',ticklen:30,tickwidth:6,tickcolor:BLACK,
    minor:{tickvals:xMinorVals,ticks:'outside',ticklen:18,tickwidth:6,tickcolor:BLACK},
    showline:false,showgrid:false,zeroline:false,tickangle:0,ticklabelstandoff:-10,
    tickfont:{family:FONT,size:52,color:BLACK},title:{text:'Time, sec',standoff:53,font:{family:FONT,size:66,color:BLACK}},automargin:false,anchor:'y'},
  yaxis:{domain:[1-1541/1753,1-38.7/1753],range:[0.07,0.12518],tickvals:yTickVals,ticktext:yTickText,ticks:'outside',ticklen:30,tickwidth:6,tickcolor:BLACK,
    minor:{tickvals:yMinorVals,ticks:'outside',ticklen:18,tickwidth:6,tickcolor:BLACK},
    showline:false,showgrid:false,zeroline:false,ticklabelstandoff:4,
    tickfont:{family:FONT,size:52,color:BLACK},automargin:false,anchor:'x'},
  xaxis2:{domain:[2299.5/2604,2431/2604],range:[-0.5,0.5],type:'category',visible:false,anchor:'y2'},
  yaxis2:{domain:[1-1110/1753,1-362/1753],range:[0,10],side:'right',anchor:'x2',tickvals:legendLevels.map((l,i)=>i+0.94),ticktext:legendLevels,ticks:'',showline:false,showgrid:false,zeroline:false,ticklabelstandoff:21,tickfont:{family:FONT,size:52,color:BLACK},automargin:false},
  shapes:[{type:'rect',xref:'paper',yref:'paper',x0:277/2604,x1:2266/2604,y0:1-1541/1753,y1:1-38.7/1753,line:{color:BLACK,width:6},fillcolor:'rgba(0,0,0,0)',layer:'above'}],
  annotations:annotations
};
Plotly.newPlot('c',traces,layout,{displayModeBar:false,responsive:false});
</script></body></html>
